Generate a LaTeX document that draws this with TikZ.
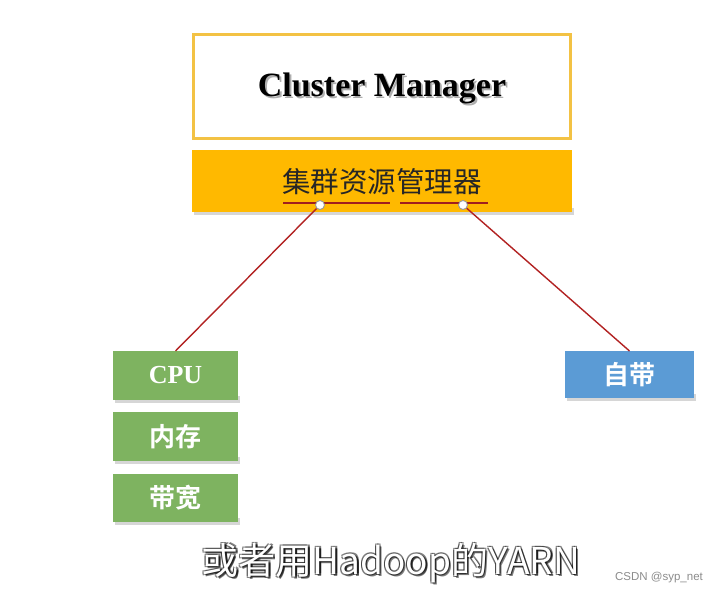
\documentclass[tikz,border=0pt]{standalone}
\usepackage{fontspec}
\setmainfont{Liberation Serif}
\newfontfamily\cjk{Noto Sans CJK SC}
\newfontfamily\cjkb{Noto Sans CJK SC Bold}
\newfontfamily\arial{Liberation Sans}
\definecolor{goldline}{HTML}{F3C244}
\definecolor{barfill}{HTML}{FFB900}
\definecolor{grn}{HTML}{7EB360}
\definecolor{blu}{HTML}{5B9BD5}
\definecolor{redl}{HTML}{B22222}
\begin{document}
\begin{tikzpicture}[x=1pt,y=-1pt,
  box/.style={rectangle,inner sep=0pt,outer sep=0pt},
  shadowbox/.style={fill=black,opacity=0.16},
  gbox/.style={box,fill=grn,minimum width=125pt,text=white},
  conn/.style={draw=redl,line width=1.4pt},
  pin/.style={circle,draw=gray!80,fill=white,line width=0.9pt,minimum size=9pt,inner sep=0pt},
  uline/.style={draw=redl!90!black,line width=1.6pt}
]
\useasboundingbox (0,0) rectangle (721,593);
\fill[white] (0,0) rectangle (721,593);
% shadows
\fill[shadowbox] (194,208) rectangle (574,215);
\fill[shadowbox] (115,396) rectangle (240,403);
\fill[shadowbox] (115,457) rectangle (240,464);
\fill[shadowbox] (115,518) rectangle (240,525);
\fill[shadowbox] (567,394) rectangle (696,401);
% Cluster Manager
\node[box,draw=goldline,line width=3pt,fill=white,minimum width=377pt,minimum height=104pt] (cm) at (382,86.5) {};
\node[text=black!45,opacity=0.7] (cmsh) at (384,90) {\fontsize{34}{40}\selectfont\bfseries Cluster Manager};
\node (cmt) at (382,88) {\fontsize{34}{40}\selectfont\bfseries Cluster Manager};
% bar
\node[box,fill=barfill,minimum width=380pt,minimum height=62pt] (bar) at (382,181) {};
\node[text=black!85] (bart) at (382,182) {\cjk\fontsize{28.5}{32}\selectfont 集群资源管理器};
\draw[uline] (283,203) -- (390,203);
\draw[uline] (400,203) -- (488,203);
\coordinate (u1) at (320,205);
\coordinate (u2) at (463,205);
% boxes
\node[gbox,minimum height=49pt] (cpu) at (175.5,375.5) {\fontsize{26}{30}\selectfont\bfseries CPU};
\node[gbox,minimum height=49pt] (mem) at (175.5,436.5) {\cjkb\fontsize{26}{30}\selectfont 内存};
\node[gbox,minimum height=48pt] (bw) at (175.5,498) {\cjkb\fontsize{26}{30}\selectfont 带宽};
\node[box,fill=blu,minimum width=129pt,minimum height=47pt,text=white] (zd) at (629.5,374.5) {\cjkb\fontsize{26}{30}\selectfont 自带};
% connectors
\draw[conn] (u1) -- (cpu.north);
\draw[conn] (u2) -- (zd.north);
\node[pin] (p1) at (u1) {};
\node[pin] (p2) at (u2) {};
% caption
\foreach \dx/\dy in {1.3/1.3,-1.3/1.3,1.3/-1.3,-1.3/-1.3,2/2.5}
  \node[text=black,opacity=0.5] at (391+\dx,563+\dy) {\cjk\fontsize{37}{40}\selectfont 或者用Hadoop的YARN};
\node[text=white] (cap) at (391,563) {\cjk\fontsize{37}{40}\selectfont 或者用Hadoop的YARN};
\node[text=black!45] (csdn) at (659,578) {\arial\fontsize{11.5}{13}\selectfont CSDN @syp\_net};
\end{tikzpicture}
\end{document}
